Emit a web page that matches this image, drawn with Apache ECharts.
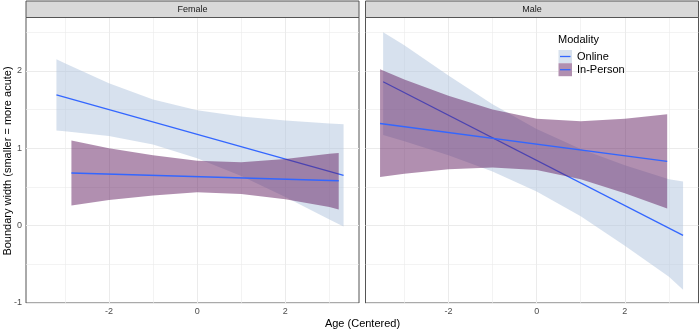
<!DOCTYPE html>
<html><head><meta charset="utf-8">
<script src="https://cdn.jsdelivr.net/npm/echarts@6/dist/echarts.min.js"></script>
<style>html,body{margin:0;padding:0;background:#fff}#c{width:700px;height:331px}</style>
</head><body><div id="c"></div>
<script>
// ---- data ----
const facets = ['Female', 'Male'];
const modalities = ['Online', 'In-Person'];
const xTickValues = [-2, 0, 2];
const yTickValues = [-1, 0, 1, 2];
const xMinorGrid = [-3, -1, 1, 3];
const yMinorGrid = [-0.5, 0.5, 1.5, 2.5];

// Female – Online
const femOnlineX    = [-3.19, -3, -2, -1, 0, 1, 2, 3, 3.32];
const femOnlineLow  = [1.23, 1.22, 1.16, 1.05, 0.87, 0.64, 0.37, 0.08, -0.01];
const femOnlineHigh = [2.15, 2.10, 1.84, 1.63, 1.49, 1.41, 1.36, 1.32, 1.31];
const femOnlineFitX = [-3.19, 3.32];
const femOnlineFit  = [1.69, 0.65];
// Female – In-Person
const femInPX    = [-2.85, -2, -1, 0, 1, 2, 3, 3.21];
const femInPLow  = [0.26, 0.33, 0.39, 0.43, 0.41, 0.34, 0.24, 0.21];
const femInPHigh = [1.10, 1.00, 0.91, 0.84, 0.82, 0.86, 0.93, 0.94];
const femInPFitX = [-2.85, 3.21];
const femInPFit  = [0.68, 0.58];
// Male – Online
const maleOnlineX    = [-3.48, -3, -2, -1, 0, 1, 2, 3, 3.32];
const maleOnlineLow  = [1.17, 1.09, 0.91, 0.70, 0.44, 0.12, -0.26, -0.66, -0.83];
const maleOnlineHigh = [2.50, 2.33, 1.94, 1.57, 1.25, 0.99, 0.78, 0.60, 0.57];
const maleOnlineFitX = [-3.48, 3.32];
const maleOnlineFit  = [1.86, -0.125];
// Male – In-Person
const maleInPX    = [-3.55, -3, -2, -1, 0, 1, 2, 2.96];
const maleInPLow  = [0.63, 0.67, 0.73, 0.75, 0.72, 0.60, 0.42, 0.22];
const maleInPHigh = [2.02, 1.89, 1.68, 1.50, 1.38, 1.35, 1.38, 1.44];
const maleInPFitX = [-3.55, 2.96];
const maleInPFit  = [1.32, 0.83];

// ---- styling ----
const FONT = "'Liberation Sans', Arial, Helvetica, sans-serif";
const LINE_COLOR = '#3366FF';
const ONLINE_FILL = 'rgba(176,196,222,0.5)';
const INP_FILL = 'rgba(100,32,98,0.5)';
const GRID_COLOR = '#ebebeb';
const BORDER = '#555555';

const grids = [
  {left: 26, top: 17.5, width: 333, height: 285.5},
  {left: 365.5, top: 17.5, width: 333, height: 285.5}
];

function band(name, gi, xs, lo, hi, fill, z) {
  const data = xs.map((x, i) => [x, lo[i], hi[i]]);
  return {
    type: 'custom', name, xAxisIndex: gi, yAxisIndex: gi, z, silent: true,
    animation: false, data, encode: {x: 0, y: [1, 2]},
    renderItem(params, api) {
      if (params.dataIndex !== 0) return null;
      const top = data.map(d => api.coord([d[0], d[2]]));
      const bot = data.map(d => api.coord([d[0], d[1]])).reverse();
      return {type: 'polygon', shape: {points: top.concat(bot)}, style: {fill: fill, stroke: null}};
    }
  };
}
function fitLine(name, gi, xs, ys, z, withGrid) {
  const s = {
    type: 'line', name, xAxisIndex: gi, yAxisIndex: gi, z, silent: true, animation: false,
    data: xs.map((x, i) => [x, ys[i]]), showSymbol: false, symbol: 'none',
    lineStyle: {color: LINE_COLOR, width: 1.3}
  };
  if (withGrid) {
    s.markLine = {
      silent: true, symbol: 'none', z: 1, animation: false, label: {show: false},
      lineStyle: {color: GRID_COLOR, width: 1, type: 'solid'},
      emphasis: {disabled: true},
      data: [
        ...xTickValues.map(v => ({xAxis: v})),
        ...yTickValues.map(v => ({yAxis: v})),
        ...xMinorGrid.map(v => ({xAxis: v, lineStyle: {color: GRID_COLOR, width: 0.6, type: 'solid'}})),
        ...yMinorGrid.map(v => ({yAxis: v, lineStyle: {color: GRID_COLOR, width: 0.6, type: 'solid'}}))
      ]
    };
  }
  return s;
}

const xAxes = grids.map((g, i) => ({
  type: 'value', gridIndex: i, min: -3.88, max: 3.67,
  axisLine: {show: false},
  splitLine: {show: false},
  axisTick: {show: true, customValues: xTickValues, length: 3, lineStyle: {color: '#333'}},
  axisLabel: {show: true, customValues: xTickValues, color: '#4d4d4d', fontSize: 9, fontFamily: FONT, margin: 4}
}));
const yAxes = grids.map((g, i) => ({
  type: 'value', gridIndex: i, min: -1.0, max: 2.69,
  axisLine: {show: false},
  splitLine: {show: false},
  axisTick: {show: i === 0, customValues: yTickValues, length: 3, lineStyle: {color: '#333'}},
  axisLabel: {show: i === 0, customValues: yTickValues, color: '#4d4d4d', fontSize: 9, fontFamily: FONT, margin: 4}
}));

const series = [
  band('Female Online band', 0, femOnlineX, femOnlineLow, femOnlineHigh, ONLINE_FILL, 2),
  fitLine('Female Online', 0, femOnlineFitX, femOnlineFit, 3, true),
  band('Female In-Person band', 0, femInPX, femInPLow, femInPHigh, INP_FILL, 4),
  fitLine('Female In-Person', 0, femInPFitX, femInPFit, 5, false),
  band('Male Online band', 1, maleOnlineX, maleOnlineLow, maleOnlineHigh, ONLINE_FILL, 2),
  fitLine('Male Online', 1, maleOnlineFitX, maleOnlineFit, 3, true),
  band('Male In-Person band', 1, maleInPX, maleInPLow, maleInPHigh, INP_FILL, 4),
  fitLine('Male In-Person', 1, maleInPFitX, maleInPFit, 5, false)
];

const graphic = [];
grids.forEach((g, i) => {
  graphic.push({type: 'rect', z: 10, silent: true,
    shape: {x: g.left, y: 1, width: g.width, height: g.top - 1},
    style: {fill: '#d9d9d9', stroke: BORDER, lineWidth: 1}});
  graphic.push({type: 'text', z: 11, silent: true, x: g.left + g.width / 2, y: (g.top + 1) / 2 + 0.5,
    style: {text: facets[i], fill: '#1a1a1a', fontSize: 9, fontFamily: FONT, align: 'center', verticalAlign: 'middle'}});
});
graphic.push({type: 'text', silent: true, x: 362.5, y: 323.5,
  style: {text: 'Age (Centered)', fill: '#000', fontSize: 11, fontFamily: FONT, align: 'center', verticalAlign: 'middle'}});
graphic.push({type: 'text', silent: true, x: 7.5, y: 161, rotation: Math.PI / 2,
  style: {text: 'Boundary width (smaller = more acute)', fill: '#000', fontSize: 11, fontFamily: FONT, align: 'center', verticalAlign: 'middle'}});
// legend
const legendFills = [ONLINE_FILL, INP_FILL];
graphic.push({type: 'text', silent: true, z: 20, x: 558, y: 39.5,
  style: {text: 'Modality', fill: '#000', fontSize: 11, fontFamily: FONT, align: 'left', verticalAlign: 'middle'}});
modalities.forEach((m, k) => {
  const y0 = 50 + k * 13.2;
  graphic.push({type: 'rect', silent: true, z: 20, shape: {x: 558.5, y: y0, width: 13.5, height: 13}, style: {fill: '#fff'}});
  graphic.push({type: 'rect', silent: true, z: 21, shape: {x: 558.5, y: y0, width: 13.5, height: 13}, style: {fill: legendFills[k]}});
  graphic.push({type: 'line', silent: true, z: 22, shape: {x1: 560, y1: y0 + 6.5, x2: 570.5, y2: y0 + 6.5}, style: {stroke: LINE_COLOR, lineWidth: 1.3}});
  graphic.push({type: 'text', silent: true, z: 22, x: 577, y: y0 + 6.5,
    style: {text: m, fill: '#000', fontSize: 11, fontFamily: FONT, align: 'left', verticalAlign: 'middle'}});
});

const chart = echarts.init(document.getElementById('c'), null, {renderer: 'canvas'});
chart.setOption({
  animation: false,
  backgroundColor: '#fff',
  grid: grids.map(g => Object.assign({show: true, borderColor: BORDER, borderWidth: 1, backgroundColor: '#fff', containLabel: false}, g)),
  xAxis: xAxes,
  yAxis: yAxes,
  series,
  graphic
});
</script></body></html>
